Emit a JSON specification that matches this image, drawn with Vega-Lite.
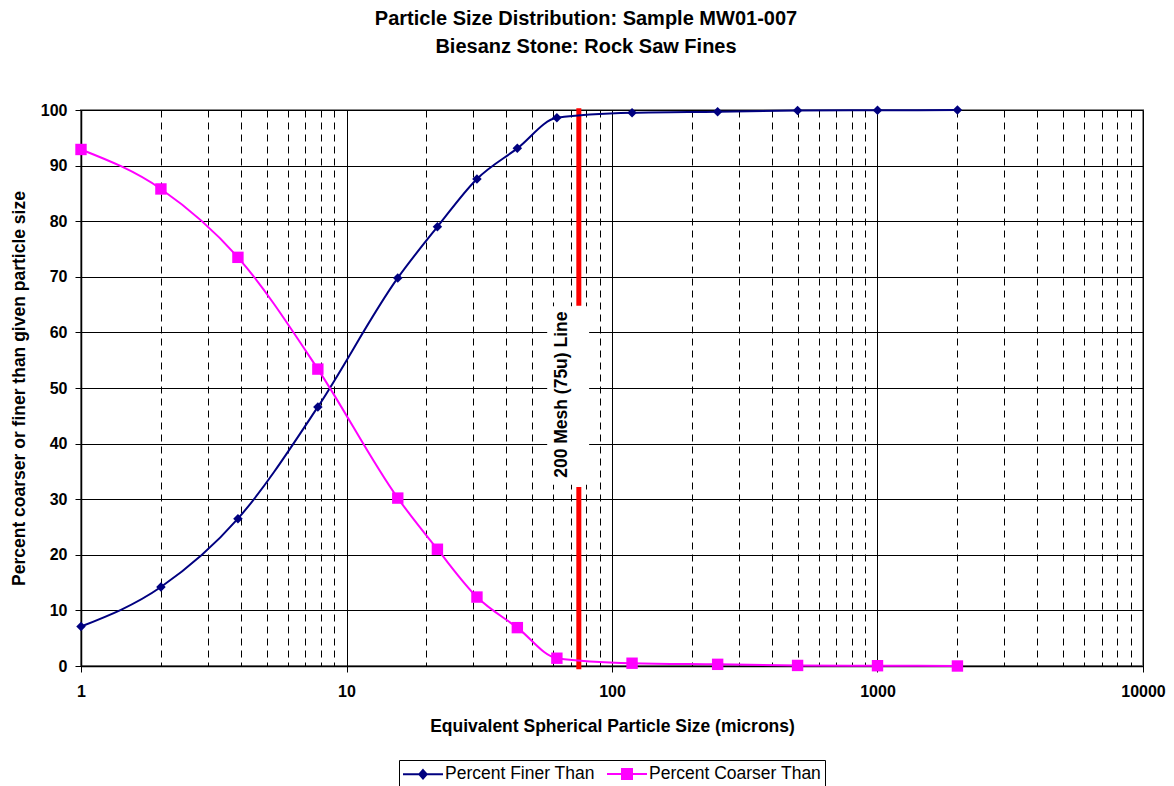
{
  "$schema": "https://vega.github.io/schema/vega-lite/v6.json",
  "width": 1062,
  "height": 556,
  "autosize": "none",
  "padding": {"left": 81, "top": 110, "right": 31, "bottom": 120},
  "background": "white",
  "config": {
    "font": "Liberation Sans",
    "view": {"stroke": "#888", "strokeWidth": 2}
  },
  "title": {
    "text": ["Particle Size Distribution: Sample MW01-007", "Biesanz Stone: Rock Saw Fines"],
    "fontSize": 20,
    "fontWeight": "bold",
    "font": "Liberation Sans",
    "color": "#000",
    "lineHeight": 28,
    "anchor": "middle",
    "dx": -26,
    "baseline": "bottom",
    "offset": 25
  },
  "data": {
    "values": [
      {"size": 1, "series": "Percent Finer Than", "pct": 7.1},
      {"size": 2, "series": "Percent Finer Than", "pct": 14.2},
      {"size": 3.9, "series": "Percent Finer Than", "pct": 26.5},
      {"size": 7.8, "series": "Percent Finer Than", "pct": 46.6},
      {"size": 15.6, "series": "Percent Finer Than", "pct": 69.8},
      {"size": 22, "series": "Percent Finer Than", "pct": 79.0},
      {"size": 31, "series": "Percent Finer Than", "pct": 87.6},
      {"size": 44, "series": "Percent Finer Than", "pct": 93.1},
      {"size": 62, "series": "Percent Finer Than", "pct": 98.6},
      {"size": 119, "series": "Percent Finer Than", "pct": 99.5},
      {"size": 250, "series": "Percent Finer Than", "pct": 99.7},
      {"size": 500, "series": "Percent Finer Than", "pct": 99.9},
      {"size": 1000, "series": "Percent Finer Than", "pct": 99.95},
      {"size": 2000, "series": "Percent Finer Than", "pct": 100},
      {"size": 1, "series": "Percent Coarser Than", "pct": 92.9},
      {"size": 2, "series": "Percent Coarser Than", "pct": 85.8},
      {"size": 3.9, "series": "Percent Coarser Than", "pct": 73.5},
      {"size": 7.8, "series": "Percent Coarser Than", "pct": 53.4},
      {"size": 15.6, "series": "Percent Coarser Than", "pct": 30.2},
      {"size": 22, "series": "Percent Coarser Than", "pct": 21.0},
      {"size": 31, "series": "Percent Coarser Than", "pct": 12.4},
      {"size": 44, "series": "Percent Coarser Than", "pct": 6.9},
      {"size": 62, "series": "Percent Coarser Than", "pct": 1.4},
      {"size": 119, "series": "Percent Coarser Than", "pct": 0.5},
      {"size": 250, "series": "Percent Coarser Than", "pct": 0.3},
      {"size": 500, "series": "Percent Coarser Than", "pct": 0.1},
      {"size": 1000, "series": "Percent Coarser Than", "pct": 0.05},
      {"size": 2000, "series": "Percent Coarser Than", "pct": 0}
    ]
  },
  "encoding": {
    "x": {
      "field": "size",
      "type": "quantitative",
      "scale": {"type": "log", "domain": [1, 10000], "nice": false},
      "axis": {
        "title": "Equivalent Spherical Particle Size (microns)",
        "values": [1,2,3,4,5,6,7,8,9,10,20,30,40,50,60,70,80,90,100,200,300,400,500,600,700,800,900,1000,2000,3000,4000,5000,6000,7000,8000,9000,10000],
        "format": "d",
        "labelExpr": "indexof([1,10,100,1000,10000], datum.value) >= 0 ? format(datum.value, 'd') : ''",
        "labelOverlap": false,
        "labelFlush": false,
        "labelBound": false,
        "labelFontSize": 16,
        "labelFontWeight": "bold",
        "labelColor": "#000",
        "labelPadding": 11,
        "tickSize": 6,
        "tickColor": "#000",
        "tickOpacity": {"condition": {"test": "indexof([1,10,100,1000,10000], datum.value) >= 0", "value": 1}, "value": 0},
        "grid": true,
        "gridColor": "#000",
        "gridWidth": 1,
        "gridOpacity": 1,
        "gridDash": {"condition": {"test": "indexof([1,10,100,1000,10000], datum.value) >= 0", "value": []}, "value": [7, 5]},
        "domainColor": "#000",
        "domainWidth": 1.5,
        "titleFontSize": 17.5,
        "titleFontWeight": "bold",
        "titleColor": "#000",
        "titlePadding": 18
      }
    },
    "y": {
      "field": "pct",
      "type": "quantitative",
      "scale": {"domain": [0, 100], "nice": false},
      "axis": {
        "title": "Percent coarser or finer than given particle size",
        "values": [0,10,20,30,40,50,60,70,80,90,100],
        "labelFontSize": 16,
        "labelFontWeight": "bold",
        "labelColor": "#000",
        "labelPadding": 8,
        "tickSize": 6,
        "tickColor": "#000",
        "grid": true,
        "gridColor": "#000",
        "gridWidth": 1,
        "gridOpacity": 1,
        "domainColor": "#000",
        "domainWidth": 1.5,
        "titleFontSize": 17.5,
        "titleFontWeight": "bold",
        "titleColor": "#000",
        "titlePadding": 12
      }
    }
  },
  "layer": [
    {
      "data": {"values": [{"x1": 57, "x2": 82, "y1": 32.6, "y2": 64.7}]},
      "mark": {"type": "rect", "fill": "white"},
      "encoding": {
        "x": {"field": "x1", "type": "quantitative"},
        "x2": {"field": "x2"},
        "y": {"field": "y1", "type": "quantitative"},
        "y2": {"field": "y2"}
      }
    },
    {
      "data": {"values": [{"x": 75, "y1": 64.8, "y2": 100.3}, {"x": 75, "y1": -0.6, "y2": 32.2}]},
      "mark": {"type": "rule", "color": "#FF0000", "strokeWidth": 5},
      "encoding": {
        "x": {"field": "x", "type": "quantitative"},
        "y": {"field": "y1", "type": "quantitative"},
        "y2": {"field": "y2"}
      }
    },
    {
      "data": {"values": [{"x": 65, "y": 48.8, "label": "200 Mesh (75u) Line"}]},
      "mark": {"type": "text", "angle": 270, "align": "center", "baseline": "middle", "fontSize": 17.5, "fontWeight": "bold", "color": "#000", "font": "Liberation Sans"},
      "encoding": {
        "x": {"field": "x", "type": "quantitative"},
        "y": {"field": "y", "type": "quantitative"},
        "text": {"field": "label"}
      }
    },
    {
      "mark": {"type": "line", "interpolate": "monotone", "strokeWidth": 2},
      "encoding": {
        "color": {
          "field": "series",
          "type": "nominal",
          "scale": {"domain": ["Percent Finer Than", "Percent Coarser Than"], "range": ["#000080", "#FF00FF"]},
          "legend": {
            "orient": "none",
            "legendX": 318,
            "legendY": 650,
            "direction": "horizontal",
            "title": null,
            "strokeColor": "#000",
            "fillColor": "white",
            "padding": 3,
            "labelFont": "Liberation Sans",
            "labelFontSize": 17.5,
            "labelColor": "#000",
            "labelLimit": 400,
            "labelOffset": 11,
            "columnPadding": 8,
            "symbolSize": 400,
            "symbolOffset": 10,
            "symbolStrokeWidth": 2,
            "symbolOpacity": 1,
            "encode": {
              "symbols": {
                "update": {
                  "shape": {"signal": "datum.value === 'Percent Finer Than' ? 'M-2,0H2M0,-0.42L0.37,0L0,0.42L-0.37,0Z' : 'M-2,0H2M-0.5,-0.5H0.5V0.5H-0.5Z'"},
                  "stroke": {"signal": "datum.value === 'Percent Finer Than' ? '#000080' : '#FF00FF'"},
                  "fill": {"signal": "datum.value === 'Percent Finer Than' ? '#000080' : '#FF00FF'"},
                  "strokeWidth": {"value": 2},
                  "opacity": {"value": 1}
                }
              }
            }
          }
        }
      }
    },
    {
      "transform": [{"filter": "datum.series === 'Percent Finer Than'"}],
      "mark": {"type": "point", "shape": "diamond", "filled": true, "size": 90, "opacity": 1},
      "encoding": {
        "color": {"field": "series", "type": "nominal"}
      }
    },
    {
      "transform": [{"filter": "datum.series === 'Percent Coarser Than'"}],
      "mark": {"type": "point", "shape": "square", "filled": true, "size": 130, "opacity": 1},
      "encoding": {
        "color": {"field": "series", "type": "nominal"}
      }
    }
  ]
}
